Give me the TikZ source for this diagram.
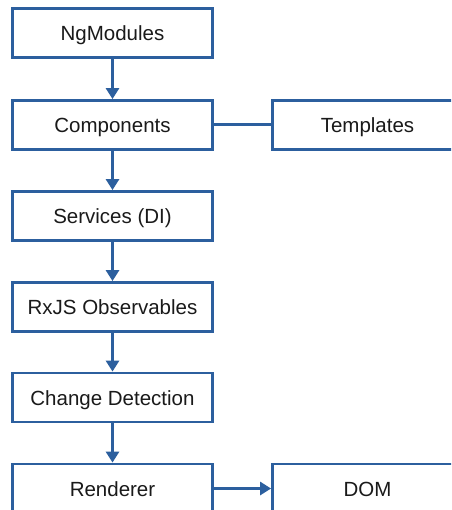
\documentclass[tikz,border=0pt]{standalone}
\usepackage{fontspec}
\setmainfont{Liberation Sans}
\usetikzlibrary{arrows.meta}
\definecolor{ngblue}{HTML}{2C5F9E}
\definecolor{ngtext}{HTML}{1A1A1A}
\tikzset{
  box/.style={draw=ngblue, line width=2.8pt, fill=white, minimum width=200pt, minimum height=49pt,
    inner sep=0pt, text height=15pt, text depth=0pt, text=ngtext, font=\fontsize{20.5}{24}\selectfont},
  sidebox/.style={box, minimum width=190pt},
  flow/.style={draw=ngblue, line width=3pt, -{Triangle[width=13pt,length=11pt]}},
  link/.style={draw=ngblue, line width=3pt}
}
\begin{document}
\begin{tikzpicture}[x=1pt,y=-1pt]
\useasboundingbox (0,0) rectangle (451,510);
\clip (0,0) rectangle (451,510);
\node[box] (ng) at (112.5,33) {NgModules};
\node[box] (comp) at (112.5,125) {Components};
\node[sidebox] (tmpl) at (367.5,125) {Templates};
\node[box] (svc) at (112.5,216) {Services (DI)};
\node[box] (rx) at (112.5,307) {RxJS Observables};
\node[box] (cd) at (112.5,397.5) {Change Detection};
\node[box] (ren) at (112.5,488.5) {Renderer};
\node[sidebox] (dom) at (367.5,488.5) {DOM};
\draw[flow] (ng) -- (comp);
\draw[link] (comp) -- (tmpl);
\draw[flow] (comp) -- (svc);
\draw[flow] (svc) -- (rx);
\draw[flow] (rx) -- (cd);
\draw[flow] (cd) -- (ren);
\draw[flow] (ren) -- (dom);
\end{tikzpicture}
\end{document}
